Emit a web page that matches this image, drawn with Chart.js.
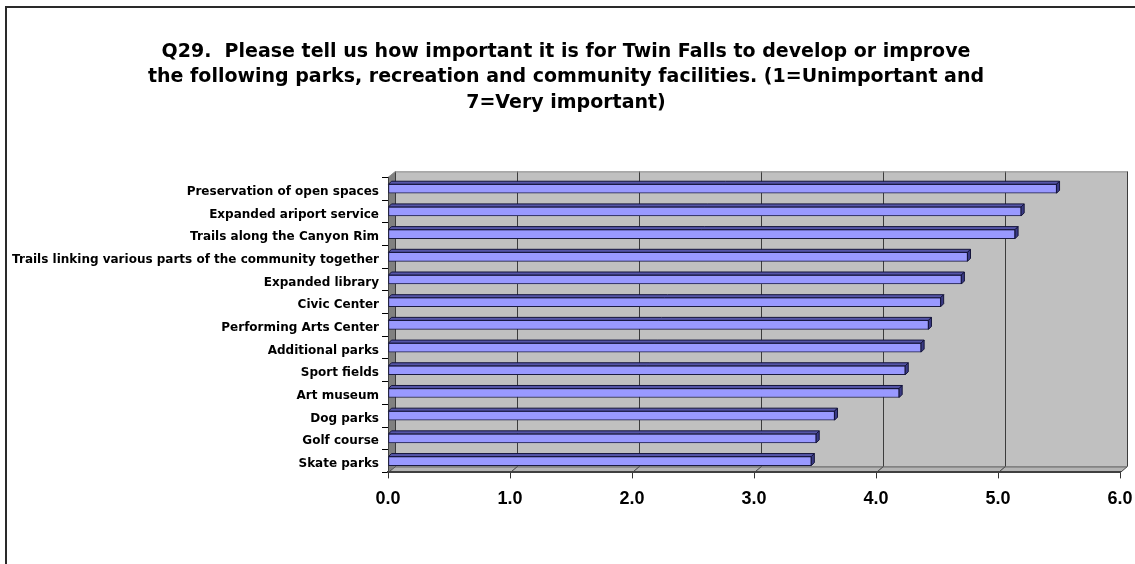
<!DOCTYPE html>
<html>
<head>
<meta charset="utf-8">
<script src="https://cdn.jsdelivr.net/npm/chart.js@4.4.1/dist/chart.umd.min.js"></script>
<style>
  html, body { margin: 0; padding: 0; background: #fff; }
  #wrap { width: 1135px; height: 564px; position: relative; }
</style>
</head>
<body>
<div id="wrap"><canvas id="q29Chart"></canvas></div>
<script>
// survey items, top to bottom
var categories = [
    'Preservation of open spaces',
    'Expanded ariport service',
    'Trails along the Canyon Rim',
    'Trails linking various parts of the community together',
    'Expanded library',
    'Civic Center',
    'Performing Arts Center',
    'Additional parks',
    'Sport fields',
    'Art museum',
    'Dog parks',
    'Golf course',
    'Skate parks'
];
// mean importance (1-7 scale)
var scores = [5.48, 5.19, 5.14, 4.75, 4.70, 4.53, 4.43, 4.37, 4.24, 4.19, 3.66, 3.51, 3.47];
var xTicks = [0, 1, 2, 3, 4, 5, 6];
var titleLines = [
    'Q29.  Please tell us how important it is for Twin Falls to develop or improve',
    'the following parks, recreation and community facilities. (1=Unimportant and',
    '7=Very important)'
];

var DX = 7, DY = -6;   // depth of the walls
var BD = 3;            // depth of a bar

// fake 3-D box: back wall, side wall, floor and the frame round the chart
var walls = {
    id: 'walls',
    beforeDraw: function(chart) {
        var ctx = chart.ctx, a = chart.chartArea, x = chart.scales.x;
        ctx.save();
        // outer frame (left + top only)
        ctx.fillStyle = '#2a2a2a';
        ctx.fillRect(5, 6, 2, chart.height - 6);
        ctx.fillRect(5, 6, chart.width - 5, 2);

        // back wall
        ctx.fillStyle = '#c0c0c0';
        ctx.fillRect(a.left + DX, a.top + DY, a.right - a.left, a.bottom - a.top);
        // left wall
        ctx.fillStyle = '#808080';
        ctx.beginPath();
        ctx.moveTo(a.left, a.top);
        ctx.lineTo(a.left + DX, a.top + DY);
        ctx.lineTo(a.left + DX, a.bottom + DY);
        ctx.lineTo(a.left, a.bottom);
        ctx.closePath();
        ctx.fill();
        // floor
        ctx.fillStyle = '#b4b4b4';
        ctx.beginPath();
        ctx.moveTo(a.left, a.bottom);
        ctx.lineTo(a.left + DX, a.bottom + DY);
        ctx.lineTo(a.right + DX, a.bottom + DY);
        ctx.lineTo(a.right, a.bottom);
        ctx.closePath();
        ctx.fill();

        // gridlines on back wall, bending down across the floor
        ctx.strokeStyle = '#3c3c3c';
        ctx.lineWidth = 1;
        xTicks.forEach(function(v) {
            var px = Math.round(x.getPixelForValue(v)) + 0.5;
            ctx.beginPath();
            ctx.moveTo(px + DX, a.top + DY);
            ctx.lineTo(px + DX, a.bottom + DY);
            ctx.lineTo(px, a.bottom);
            ctx.stroke();
        });
        // wall edges
        ctx.strokeStyle = '#8c8c8c';
        ctx.beginPath();
        ctx.moveTo(a.left, a.top);
        ctx.lineTo(a.left + DX, a.top + DY + 0.5);
        ctx.lineTo(a.right + DX, a.top + DY + 0.5);
        ctx.stroke();
        ctx.strokeStyle = '#555';
        ctx.beginPath();
        ctx.moveTo(a.left + DX, a.bottom + DY + 0.5);
        ctx.lineTo(a.right + DX, a.bottom + DY + 0.5);
        ctx.stroke();
        ctx.restore();
    },
    afterDatasetsDraw: function(chart) {
        var ctx = chart.ctx;
        var meta = chart.getDatasetMeta(0);
        ctx.save();
        ctx.strokeStyle = '#14143a';
        ctx.lineWidth = 1;
        meta.data.forEach(function(bar) {
            var p = bar.getProps(['x', 'y', 'base', 'height'], true);
            var top = p.y - p.height / 2, bottom = p.y + p.height / 2;
            // top face
            ctx.fillStyle = '#5555a8';
            ctx.beginPath();
            ctx.moveTo(p.base, top);
            ctx.lineTo(p.base + BD, top - BD);
            ctx.lineTo(p.x + BD, top - BD);
            ctx.lineTo(p.x, top);
            ctx.closePath();
            ctx.fill();
            ctx.stroke();
            // end face
            ctx.fillStyle = '#3a3a85';
            ctx.beginPath();
            ctx.moveTo(p.x, top);
            ctx.lineTo(p.x + BD, top - BD);
            ctx.lineTo(p.x + BD, bottom - BD);
            ctx.lineTo(p.x, bottom);
            ctx.closePath();
            ctx.fill();
            ctx.stroke();
        });
        ctx.restore();
    }
};

document.addEventListener('DOMContentLoaded', function() {
    var ctx = document.getElementById('q29Chart').getContext('2d');
    var q29Chart = new Chart(ctx, {
        type: 'bar',
        data: {
            labels: categories,
            datasets: [{
                label: 'Mean importance',
                data: scores,
                backgroundColor: '#9999ff',
                borderColor: '#1a1a40',
                borderWidth: 1,
                borderSkipped: false,
                barThickness: 9
            }]
        },
        options: {
            indexAxis: 'y',
            responsive: true,
            maintainAspectRatio: false,
            animation: false,
            layout: { padding: { top: 0, left: 12, right: 15, bottom: 44 } },
            plugins: {
                legend: { display: false },
                tooltip: { enabled: false },
                title: {
                    display: true,
                    text: titleLines,
                    color: '#000',
                    font: { family: 'DejaVu Sans, sans-serif', size: 19, weight: 'bold', lineHeight: 1.34 },
                    padding: { top: 39, bottom: 62 }
                }
            },
            scales: {
                x: {
                    min: xTicks[0],
                    max: xTicks[xTicks.length - 1],
                    afterBuildTicks: function(scale) {
                        scale.ticks = xTicks.map(function(v) { return { value: v }; });
                    },
                    afterFit: function(scale) {
                        // let "6.0" hang into the right margin
                        scale.paddingLeft = 0;
                        scale.paddingRight = 0;
                    },
                    grid: { drawOnChartArea: false, drawTicks: true, tickLength: 6, color: '#333' },
                    border: { display: true, color: '#404040', width: 2 },
                    ticks: {
                        color: '#000',
                        padding: 10,
                        maxRotation: 0,
                        font: { family: 'Liberation Sans, Arial, sans-serif', size: 18, weight: 'bold' },
                        callback: function(v) { return Number(v).toFixed(1); }
                    }
                },
                y: {
                    afterFit: function(scale) { scale.width = 376; },
                    grid: { drawOnChartArea: false, drawTicks: true, tickLength: 6, offset: true, color: '#000' },
                    border: { display: true, color: '#404040', width: 1 },
                    ticks: {
                        color: '#000',
                        padding: 3,
                        labelOffset: 3,
                        autoSkip: false,
                        font: { family: 'DejaVu Sans, sans-serif', size: 12, weight: 'bold' }
                    }
                }
            }
        },
        plugins: [walls]
    });
});
</script>
</body>
</html>
